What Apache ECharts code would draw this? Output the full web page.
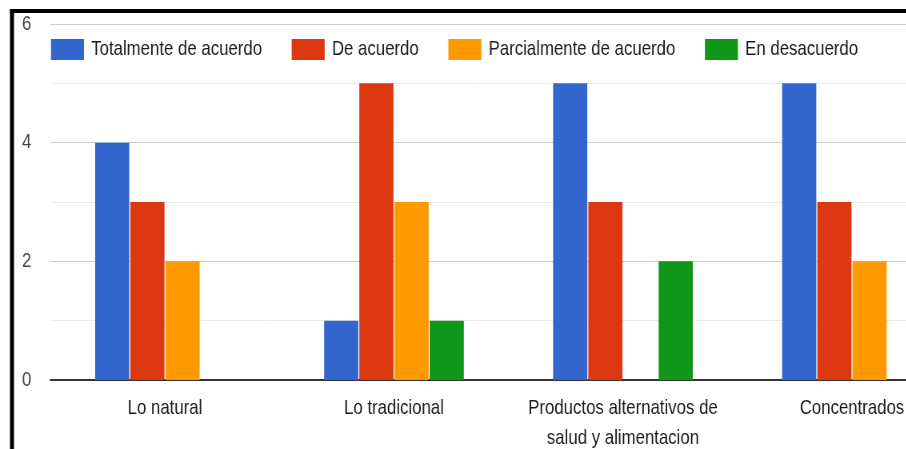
<!DOCTYPE html>
<html><head><meta charset="utf-8">
<script src="https://cdn.jsdelivr.net/npm/echarts@6/dist/echarts.min.js"></script>
<style>
html,body{margin:0;padding:0;background:#fff;overflow:hidden;width:906px;height:449px}
#c{width:1133px;height:449px;transform:scaleX(0.8);transform-origin:0 0}
</style>
</head><body><div id="c"></div>
<script>
const categories = ["Lo natural", "Lo tradicional", "Productos alternativos de\nsalud y alimentacion", "Concentrados"];
const seriesNames = ["Totalmente de acuerdo", "De acuerdo", "Parcialmente de acuerdo", "En desacuerdo"];
const totalmente = [4, 1, 5, 5];
const deAcuerdo = [3, 5, 3, 3];
const parcialmente = [2, 3, 0, 2];
const desacuerdo = [0, 1, 2, 0];
const colors = ["#3366cc", "#dc3912", "#ff9900", "#109618"];
const values = [totalmente, deAcuerdo, parcialmente, desacuerdo];

// Reference looks horizontally compressed (x0.8); chart is laid out in unscaled units.
const S = 0.8;
const chart = echarts.init(document.getElementById('c'));
chart.setOption({
  animation: false,
  color: colors,
  textStyle: { fontFamily: 'Liberation Sans, Arial, sans-serif' },
  legend: {
    left: 51 / S, top: 39, padding: 0, itemWidth: 33 / S, itemHeight: 21, itemGap: 37,
    icon: 'rect',
    textStyle: { fontSize: 21, color: '#1a1a1a', padding: [0, 0, 0, 4] },
    data: seriesNames
  },
  grid: { left: 50.5 / S, top: 24, width: 916 / S, height: 356, outerBoundsMode: 'none', containLabel: false },
  xAxis: {
    type: 'category', data: categories,
    axisTick: { show: false },
    axisLine: { lineStyle: { color: '#333', width: 2 } },
    axisLabel: { fontSize: 21, color: '#1a1a1a', margin: 13, lineHeight: 30, interval: 0 }
  },
  yAxis: {
    type: 'value', min: 0, max: 6, interval: 2,
    axisLabel: { fontSize: 21, color: '#444', margin: 24 },
    splitLine: { lineStyle: { color: '#cccccc', width: 1 } },
    minorTick: { show: false, splitNumber: 2 },
    minorSplitLine: { show: true, lineStyle: { color: '#ebebeb', width: 1 } }
  },
  series: seriesNames.map((n, i) => ({
    name: n, type: 'bar', data: values[i],
    barCategoryGap: '39%', barGap: '3%',
    itemStyle: { color: colors[i] }
  })),
  graphic: [
    { type: 'rect', shape: { x: 10 / S, y: 9, width: 4 / S, height: 460 }, style: { fill: '#000' }, z: 100 },
    { type: 'rect', shape: { x: 10 / S, y: 9, width: 1200, height: 4 }, style: { fill: '#000' }, z: 100 }
  ]
});
</script></body></html>
